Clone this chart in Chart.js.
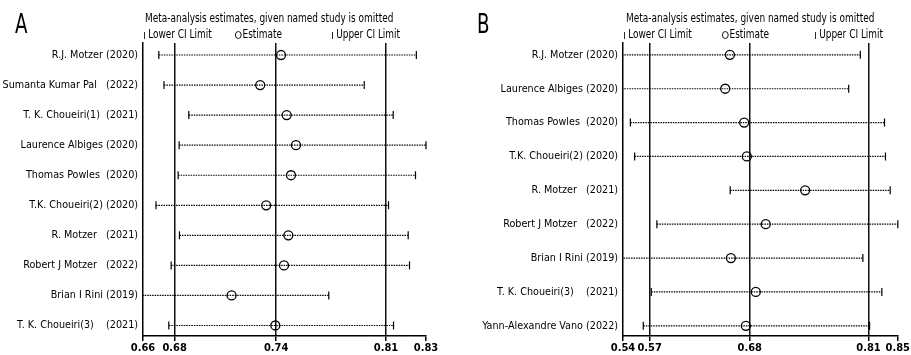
<!DOCTYPE html>
<html>
<head>
<meta charset="utf-8">
<script src="https://cdn.jsdelivr.net/npm/chart.js@4.4.0/dist/chart.umd.min.js"></script>
<style>
  body { margin: 0; background: #fff; }
  #wrap { position: relative; width: 911px; height: 355px; overflow: hidden;
          font-family: "DejaVu Sans Condensed", "Liberation Sans", sans-serif; color: #000; }
  .panel { position: absolute; top: 0; height: 355px; }
  .panel canvas { position: absolute; left: 0; top: 0; }
  .letter { position: absolute; top: 11px; font-size: 26px; line-height: 26px;
            transform: scaleX(0.78); transform-origin: left top; }
  .hdr { position: absolute; font-size: 12px; line-height: 14px; white-space: pre;
         transform: scaleX(0.83); transform-origin: left top; }
  .cap { display: inline-block; width: 1px; height: 7px; background: #000; margin-right: 4px; vertical-align: -1px; }
  .ring { display: inline-block; width: 8px; height: 8px; border: 1px solid #000; border-radius: 50%;
          box-sizing: border-box; margin-right: 1px; vertical-align: -1px; }
</style>
</head>
<body>
<div id="wrap">
  <div class="panel" style="left:0;width:455px">
    <canvas id="chartA" width="455" height="355"></canvas>
    <div class="letter" style="left:15px">A</div>
    <div class="hdr" style="left:145px;top:11px">Meta-analysis estimates, given named study is omitted</div>
    <div class="hdr" style="left:144px;top:27px"><span class="cap"></span>Lower CI Limit</div>
    <div class="hdr" style="left:235px;top:27px"><span class="ring"></span>Estimate</div>
    <div class="hdr" style="left:332px;top:27px"><span class="cap"></span>Upper CI Limit</div>
  </div>
  <div class="panel" style="left:455px;width:456px">
    <canvas id="chartB" width="456" height="355"></canvas>
    <div class="letter" style="left:22px">B</div>
    <div class="hdr" style="left:171px;top:11px">Meta-analysis estimates, given named study is omitted</div>
    <div class="hdr" style="left:169px;top:27px"><span class="cap"></span>Lower CI Limit</div>
    <div class="hdr" style="left:267px;top:27px"><span class="ring"></span>Estimate</div>
    <div class="hdr" style="left:360px;top:27px"><span class="cap"></span>Upper CI Limit</div>
  </div>
</div>
<script>
// Panel A: leave-one-out estimates
const studiesA = [
  'R.J. Motzer (2020)',
  'Sumanta Kumar Pal   (2022)',
  'T. K. Choueiri(1)  (2021)',
  'Laurence Albiges (2020)',
  'Thomas Powles  (2020)',
  'T.K. Choueiri(2) (2020)',
  'R. Motzer   (2021)',
  'Robert J Motzer   (2022)',
  'Brian I Rini (2019)',
  'T. K. Choueiri(3)    (2021)'
];
const lowerA    = [0.6695, 0.6726, 0.6875, 0.6817, 0.6811, 0.6678, 0.6819, 0.6769, 0.6550, 0.6755];
const estimateA = [0.7429, 0.7304, 0.7463, 0.7519, 0.7489, 0.7340, 0.7473, 0.7447, 0.7132, 0.7395];
const upperA    = [0.8242, 0.7929, 0.8103, 0.8300, 0.8237, 0.8075, 0.8193, 0.8201, 0.7716, 0.8105];
const tickValuesA = [0.660, 0.679, 0.740, 0.806, 0.830];
const tickLabelsA = ['0.66', '0.68', '0.74', '0.81', '0.83'];

// Panel B: leave-one-out estimates
const studiesB = [
  'R.J. Motzer (2020)',
  'Laurence Albiges (2020)',
  'Thomas Powles  (2020)',
  'T.K. Choueiri(2) (2020)',
  'R. Motzer   (2021)',
  'Robert J Motzer   (2022)',
  'Brian I Rini (2019)',
  'T. K. Choueiri(3)    (2021)',
  'Yann-Alexandre Vano (2022)'
];
const lowerB    = [0.5300, 0.5300, 0.5453, 0.5501, 0.6579, 0.5752, 0.5320, 0.5689, 0.5599];
const estimateB = [0.6576, 0.6523, 0.6737, 0.6767, 0.7425, 0.6980, 0.6587, 0.6868, 0.6756];
const upperB    = [0.8047, 0.7916, 0.8320, 0.8331, 0.8384, 0.8470, 0.8076, 0.8290, 0.8152];
const tickValuesB = [0.537, 0.567, 0.680, 0.814, 0.847];
const tickLabelsB = ['0.54', '0.57', '0.68', '0.81', '0.85'];

Chart.defaults.font.family = '"DejaVu Sans Condensed", "Liberation Sans", sans-serif';
Chart.defaults.font.size = 12;
Chart.defaults.color = '#000';

function drawPanel(id, studies, lower, est, upper, tickValues, tickLabels, layout) {
  const n = studies.length;

  const ciSets = studies.map((s, i) => ({
    data: [{ x: lower[i], y: i }, { x: upper[i], y: i }],
    showLine: true,
    borderColor: '#000',
    borderWidth: 1.2,
    borderDash: [1.5, 1],
    pointStyle: 'line',
    pointRotation: 90,
    pointRadius: 4,
    pointBorderColor: '#000',
    pointBorderWidth: 1.2,
    clip: { left: 0, top: 10, right: 6, bottom: 10 }
  }));

  const estSet = {
    data: est.map((v, i) => ({ x: v, y: i })),
    showLine: false,
    pointStyle: 'circle',
    pointRadius: 4.5,
    pointBackgroundColor: 'rgba(0,0,0,0)',
    pointBorderColor: '#000',
    pointBorderWidth: 1.3
  };

  new Chart(document.getElementById(id), {
    type: 'scatter',
    data: { datasets: [estSet].concat(ciSets) },
    options: {
      responsive: false,
      animation: false,
      events: [],
      layout: { padding: { top: 43, right: layout.right, bottom: 0, left: 0 } },
      plugins: { legend: { display: false }, tooltip: { enabled: false } },
      scales: {
        x: {
          type: 'linear',
          min: tickValues[0],
          max: tickValues[tickValues.length - 1],
          afterBuildTicks: scale => { scale.ticks = tickValues.map(v => ({ value: v })); },
          afterFit: scale => { scale.height = 19; },
          ticks: {
            autoSkip: false,
            maxRotation: 0,
            padding: 1,
            font: { size: 11, weight: 'bold' },
            callback: (v, i) => tickLabels[i]
          },
          grid: {
            color: ctx => (ctx.index === 0 || ctx.index === tickValues.length - 1) ? 'rgba(0,0,0,0)' : '#111',
            tickColor: '#000',
            tickLength: 5,
            lineWidth: 1.5
          },
          border: { color: '#000', width: 1.5 }
        },
        y: {
          type: 'linear',
          reverse: true,
          min: -layout.top,
          max: n - 1 + layout.bottom,
          afterBuildTicks: scale => { scale.ticks = studies.map((s, i) => ({ value: i })); },
          afterFit: scale => { scale.width = layout.left; },
          ticks: {
            autoSkip: false,
            padding: 5,
            font: { size: 10.7 },
            callback: v => studies[v]
          },
          grid: { display: false, drawTicks: false },
          border: { color: '#000', width: 1.5 }
        }
      }
    }
  });
}

drawPanel('chartA', studiesA, lowerA, estimateA, upperA, tickValuesA, tickLabelsA,
  { left: 143, right: 29, top: 0.4, bottom: 0.35 });
drawPanel('chartB', studiesB, lowerB, estimateB, upperB, tickValuesB, tickLabelsB,
  { left: 168, right: 12, top: 0.35, bottom: 0.3 });
</script>
</body>
</html>
